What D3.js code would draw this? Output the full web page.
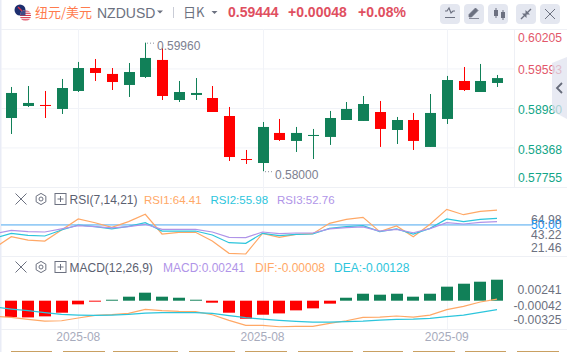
<!DOCTYPE html>
<html>
<head>
<meta charset="utf-8">
<script src="https://cdn.jsdelivr.net/npm/d3@7/dist/d3.min.js"></script>
<style>
  html, body { margin: 0; padding: 0; background: #fff; }
  svg { display: block; font-family: "Liberation Sans", Arial, sans-serif; }
  .cjk { font-family: "Noto Sans CJK SC", sans-serif; }
  .domain { display: none; }
</style>
</head>
<body>
<div id="chart"></div>
<script>
// first day sits just off the left edge, only the indicator lines reach it
const days = [
  "2025-07-25", "2025-07-28", "2025-07-29", "2025-07-30", "2025-07-31", "2025-08-01",
  "2025-08-04", "2025-08-05", "2025-08-06", "2025-08-07", "2025-08-08",
  "2025-08-11", "2025-08-12", "2025-08-13", "2025-08-14", "2025-08-15",
  "2025-08-18", "2025-08-19", "2025-08-20", "2025-08-21", "2025-08-22",
  "2025-08-25", "2025-08-26", "2025-08-27", "2025-08-28", "2025-08-29",
  "2025-09-01", "2025-09-02", "2025-09-03", "2025-09-04", "2025-09-05"
];
const dateTicks = ["2025-08-01", "2025-08-18", "2025-09-02"];

const opens = [0.58825, 0.59011, 0.59027, 0.58965, 0.59244, 0.59600, 0.59508, 0.59337, 0.59461, 0.59725,
  0.59104, 0.59182, 0.59135, 0.58856, 0.58189, 0.58127, 0.58593, 0.58469, 0.58546, 0.58531,
  0.58794, 0.58779, 0.58918, 0.58639, 0.58794, 0.58376, 0.58810, 0.59399, 0.59228, 0.59368];
const highs = [0.59306, 0.59321, 0.59244, 0.59430, 0.59694, 0.59740, 0.59600, 0.59678, 0.59993, 0.59905,
  0.59399, 0.59445, 0.59321, 0.58996, 0.58329, 0.58763, 0.58810, 0.58686, 0.58655, 0.58934,
  0.59073, 0.59166, 0.59089, 0.58841, 0.58903, 0.59197, 0.59477, 0.59616, 0.59663, 0.59492];
const lows = [0.58577, 0.58996, 0.58825, 0.58887, 0.59228, 0.59399, 0.59259, 0.59151, 0.59445, 0.59104,
  0.59073, 0.59104, 0.58918, 0.58158, 0.58112, 0.58000, 0.58469, 0.58298, 0.58189, 0.58407,
  0.58794, 0.58779, 0.58376, 0.58422, 0.58329, 0.58376, 0.58732, 0.59244, 0.59228, 0.59306];
const closes = [0.59213, 0.59058, 0.59011, 0.59290, 0.59600, 0.59523, 0.59383, 0.59538, 0.59756, 0.59166,
  0.59228, 0.59213, 0.58918, 0.58220, 0.58174, 0.58686, 0.58484, 0.58593, 0.58562, 0.58825,
  0.58965, 0.59042, 0.58655, 0.58794, 0.58469, 0.58903, 0.59414, 0.59259, 0.59399, 0.59444];

const priceTicks = [0.60205, 0.59593, 0.58980, 0.58368, 0.57755];

const rsi1 = [26.1, 37.5, 34.1, 33.1, 44.2, 55.4, 51.6, 46.9, 52.7, 60.1, 40.2, 41.9, 41.9, 33.1, 20.7, 20.0,
  40.9, 36.8, 39.9, 40.5, 51.0, 55.0, 57.0, 42.6, 48.3, 37.5, 50.0, 65.1, 59.7, 63.1, 64.41];
const rsi2 = [35.8, 40.9, 38.9, 38.2, 44.2, 49.3, 47.6, 45.3, 47.9, 51.6, 43.2, 43.2, 43.2, 39.2, 31.4, 30.8,
  40.9, 38.5, 39.9, 40.2, 45.9, 47.6, 48.6, 42.6, 45.3, 40.2, 45.9, 55.4, 52.7, 55.0, 55.98];
const rsi3 = [40.5, 43.9, 42.6, 42.2, 45.3, 48.6, 47.6, 46.3, 47.6, 50.0, 44.9, 44.9, 44.9, 42.2, 36.8, 36.5,
  42.2, 40.5, 41.2, 41.2, 45.3, 46.6, 47.3, 43.2, 44.9, 41.5, 45.6, 51.6, 50.3, 52.0, 52.76];
const rsiMid = 50;
const rsiTicks = ["64.98", "50.00", "43.22", "21.46"];

const macdBars = [-0.00188, -0.00192, -0.00180, -0.00138, -0.00042, -0.00011, 0.00011, 0.00046, 0.00092, 0.00046,
  0.00034, 0.00011, -0.00023, -0.00138, -0.00207, -0.00161, -0.00146, -0.00111, -0.00088, -0.00034,
  0.00034, 0.00080, 0.00069, 0.00080, 0.00046, 0.00080, 0.00161, 0.00195, 0.00218, 0.00241];
const dif = [-0.00180, -0.00192, -0.00214, -0.00234, -0.00230, -0.00199, -0.00169, -0.00161, -0.00146, -0.00100, -0.00115,
  -0.00123, -0.00126, -0.00161, -0.00226, -0.00283, -0.00283, -0.00299, -0.00295, -0.00295, -0.00260,
  -0.00230, -0.00192, -0.00188, -0.00176, -0.00188, -0.00165, -0.00103, -0.00065, -0.00015, 0.00019];
const dea = [-0.00073, -0.00096, -0.00115, -0.00138, -0.00157, -0.00165, -0.00169, -0.00165, -0.00157, -0.00142, -0.00138,
  -0.00138, -0.00138, -0.00146, -0.00172, -0.00195, -0.00211, -0.00226, -0.00237, -0.00245, -0.00245,
  -0.00241, -0.00234, -0.00222, -0.00214, -0.00211, -0.00203, -0.00184, -0.00165, -0.00134, -0.00103];
const macdTicks = ["0.00241", "-0.00042", "-0.00325"];

const W = 567, H = 352;
const UP = "#118058", DOWN = "#ff0000";
const ORANGE = "#ffa866", CYAN = "#2cc5dc", PURPLE = "#b094e8";
const GRID = "#f1f3f8", GREY = "#6c7180";

const svg = d3.select("#chart").append("svg").attr("width", W).attr("height", H);

const x = d3.scaleBand().domain(days).range([-13.85, 505.4]);
const mid = (d) => x(d) + x.bandwidth() / 2;

const yPrice = d3.scaleLinear().domain([0.57755, 0.60205]).range([187, 29]);
const yRsi = d3.scaleLinear().domain([20, 65]).range([254, 209.45]);
const yMacd = d3.scaleLinear().domain([-0.00325, 0.00241]).range([329, 279.7]);

// page edge on the left
svg.append("rect").attr("x", 0).attr("y", 0).attr("width", 1.5).attr("height", H).attr("fill", "#e9ecf6");

// grid
const grid = svg.append("g").attr("stroke", GRID).attr("fill", "none");
grid.selectAll(".h").data(priceTicks.slice(1, 4)).enter().append("line")
  .attr("x1", 1).attr("x2", 514)
  .attr("y1", (d) => yPrice(d) + 0.5).attr("y2", (d) => yPrice(d) + 0.5);
[29.5, 187.5, 256.5, 329.5].forEach((py) => {
  grid.append("line").attr("x1", 1).attr("x2", W).attr("y1", py).attr("y2", py).attr("stroke", "#eef0f5");
});
grid.selectAll(".v").data(dateTicks).enter().append("line")
  .attr("x1", (d) => Math.round(mid(d)) + 0.5).attr("x2", (d) => Math.round(mid(d)) + 0.5)
  .attr("y1", 29).attr("y2", 329);
grid.append("line").attr("x1", 514.5).attr("x2", 514.5).attr("y1", 29).attr("y2", 188).attr("stroke", "#eef0f5");

// candles
const candleDays = days.slice(1);
const candle = svg.append("g").selectAll("g").data(candleDays).enter().append("g")
  .attr("fill", (_, i) => closes[i] >= opens[i] ? UP : DOWN)
  .attr("stroke", (_, i) => closes[i] >= opens[i] ? UP : DOWN);
candle.append("line")
  .attr("x1", (d) => Math.round(mid(d)) + 0.5).attr("x2", (d) => Math.round(mid(d)) + 0.5)
  .attr("y1", (_, i) => yPrice(highs[i])).attr("y2", (_, i) => yPrice(lows[i]))
  .attr("stroke-width", 1);
candle.append("rect")
  .attr("x", (d) => Math.round(mid(d)) - 5).attr("width", 11)
  .attr("y", (_, i) => yPrice(Math.max(opens[i], closes[i])))
  .attr("height", (_, i) => Math.max(1, Math.abs(yPrice(opens[i]) - yPrice(closes[i]))))
  .attr("stroke", "none");

// high / low notes
function note(day, price, label, dx) {
  const px = Math.round(mid(day));
  const py = yPrice(price);
  svg.append("line").attr("x1", px + 2).attr("x2", px + dx - 1).attr("y1", py + 0.5).attr("y2", py + 0.5)
    .attr("stroke", "#8b8f9c").attr("stroke-dasharray", "1 2");
  svg.append("text").attr("x", px + dx).attr("y", py + 7.5).attr("font-size", 12).attr("fill", "#7c8090").text(label);
}
note("2025-08-07", 0.59993, "0.59960", 12);
note("2025-08-18", 0.58000, "0.58000", 12);

// price axis
const priceShift = { 0.60205: 9, 0.59593: 1, 0.58980: 1.5, 0.58368: 2.5, 0.57755: -9 };
const priceAxis = svg.append("g").attr("transform", "translate(562,0)")
  .call(d3.axisLeft(yPrice).tickValues(priceTicks).tickFormat(d3.format(".5f")).tickSize(0).tickPadding(0));
priceAxis.selectAll("text")
  .attr("font-size", 12.2)
  .attr("font-family", "Liberation Sans")
  .attr("fill", (d) => d > 0.59 ? "#e2576a" : "#12a587")
  .attr("transform", (d) => `translate(0,${priceShift[d]})`);

// side tab over the price labels
svg.append("path").attr("d", "M552,63 L567,57 L567,119 L552,111 Z").attr("fill", "#dfe2ee").attr("opacity", 0.72);
svg.append("path").attr("d", "M562,83 L557,88 L562,93").attr("fill", "none").attr("stroke", "#666b7a").attr("stroke-width", 1.8);

// RSI
const rsiLine = d3.line().x((_, i) => mid(days[i])).y((d) => yRsi(d));
svg.append("line").attr("x1", 1).attr("x2", 533).attr("y1", yRsi(rsiMid) + 0.5).attr("y2", yRsi(rsiMid) + 0.5)
  .attr("stroke", "#97ccf6").attr("stroke-width", 1.8);
[[rsi1, ORANGE], [rsi2, CYAN], [rsi3, PURPLE]].forEach(([vals, col]) => {
  svg.append("path").attr("d", rsiLine(vals)).attr("fill", "none").attr("stroke", col).attr("stroke-width", 1.2);
});

const rsiTickY = [220, 225, 235, 247.7];
svg.append("g").selectAll("text").data(rsiTicks).enter().append("text")
  .attr("x", 561.5).attr("y", (_, i) => rsiTickY[i] + 4.3)
  .attr("text-anchor", "end").attr("font-size", 12.2)
  .attr("fill", (d) => d === "50.00" ? "#2196f3" : GREY)
  .text((d) => d);

// MACD
svg.append("g").selectAll("rect").data(macdBars).enter().append("rect")
  .attr("x", (_, i) => Math.round(mid(candleDays[i])) - 6).attr("width", 12)
  .attr("y", (d) => d >= 0 ? yMacd(d) : yMacd(0))
  .attr("height", (d) => Math.abs(yMacd(d) - yMacd(0)))
  .attr("fill", (d) => d >= 0 ? UP : DOWN);
const macdLine = d3.line().x((_, i) => mid(days[i])).y((d) => yMacd(d));
[[dif, ORANGE], [dea, CYAN]].forEach(([vals, col]) => {
  svg.append("path").attr("d", macdLine(vals)).attr("fill", "none").attr("stroke", col).attr("stroke-width", 1.2);
});

const macdTickY = [289.7, 305.3, 320];
svg.append("g").selectAll("text").data(macdTicks).enter().append("text")
  .attr("x", 561.5).attr("y", (_, i) => macdTickY[i] + 4.3)
  .attr("text-anchor", "end").attr("font-size", 12.2).attr("fill", GREY)
  .text((d) => d);

// date axis
const dateAxis = svg.append("g").attr("transform", "translate(0,329)")
  .call(d3.axisBottom(x).tickValues(dateTicks).tickFormat((d) => d.slice(0, 7)).tickSize(0).tickPadding(3));
dateAxis.selectAll("text").attr("font-size", 12).attr("fill", "#a7abbc");

// tabs peeking in at the bottom
[[11, 52], [63, 105], [113, 178], [189, 235], [245, 287], [298, 353], [363, 403], [413, 455], [465, 506], [517, 559]].forEach(([a, b]) => {
  svg.append("rect").attr("x", a).attr("y", 351).attr("width", b - a).attr("height", 1).attr("fill", "#c9a062");
});

// panel headers
function closeIcon(cx, cy, r) {
  svg.append("path").attr("d", `M${cx - r},${cy - r} L${cx + r},${cy + r} M${cx - r},${cy + r} L${cx + r},${cy - r}`)
    .attr("stroke", GREY).attr("stroke-width", 1).attr("fill", "none");
}
function panelIcons(cy) {
  closeIcon(21, cy, 5.5);
  const hex = d3.range(6).map((k) => {
    const a = Math.PI / 3 * k + Math.PI / 6;
    return [41 + 5.6 * Math.cos(a), cy + 5.6 * Math.sin(a)].join(",");
  }).join(" ");
  svg.append("polygon").attr("points", hex).attr("fill", "none").attr("stroke", GREY);
  svg.append("circle").attr("cx", 41).attr("cy", cy).attr("r", 2).attr("fill", "none").attr("stroke", GREY);
  svg.append("rect").attr("x", 55).attr("y", cy - 5.5).attr("width", 11).attr("height", 11).attr("fill", "none").attr("stroke", GREY);
  svg.append("path").attr("d", `M57.5,${cy} H63.5 M60.5,${cy - 3} V${cy + 3}`).attr("stroke", GREY).attr("fill", "none");
}
function legendText(px, py, label, col, size) {
  svg.append("text").attr("x", px).attr("y", py).attr("font-size", size || 12).attr("fill", col).text(label);
}
panelIcons(199);
legendText(69.5, 203.5, "RSI(7,14,21)", "#5b6070");
legendText(144, 203.5, "RSI1:64.41", ORANGE, 11.5);
legendText(210.5, 203.5, "RSI2:55.98", CYAN, 11.5);
legendText(277, 203.5, "RSI3:52.76", PURPLE, 11.5);
panelIcons(267);
legendText(69.5, 272, "MACD(12,26,9)", "#5b6070");
legendText(163, 272, "MACD:0.00241", PURPLE);
legendText(255, 272, "DIF:-0.00008", ORANGE);
legendText(334, 272, "DEA:-0.00128", CYAN);

// top bar
const defs = svg.append("defs");
defs.append("clipPath").attr("id", "usClip").append("circle").attr("cx", 25.5).attr("cy", 15.5).attr("r", 5.5);
svg.append("circle").attr("cx", 20).attr("cy", 10).attr("r", 5.5).attr("fill", "#1d2f6f");
svg.append("path").attr("d", "M18,7 L22,11").attr("stroke", "#d8344a").attr("stroke-width", 1.4);
svg.append("circle").attr("cx", 25.5).attr("cy", 15.5).attr("r", 5.5).attr("fill", "#fff");
const us = svg.append("g").attr("clip-path", "url(#usClip)");
d3.range(5).forEach((k) => us.append("rect").attr("x", 19).attr("y", 10.5 + k * 2.2).attr("width", 14).attr("height", 1.1).attr("fill", "#d8344a"));
us.append("rect").attr("x", 19).attr("y", 9.5).attr("width", 6.5).attr("height", 6).attr("fill", "#3f4a86");

svg.append("text").attr("class", "cjk").attr("x", 35).attr("y", 16.5).attr("font-size", 13).attr("fill", "#ff7b4d").text("纽元/美元");
svg.append("text").attr("x", 97).attr("y", 18).attr("font-size", 14).attr("fill", GREY).text("NZDUSD");
svg.append("path").attr("d", "M157,10.5 H163 L160,13.5 Z").attr("fill", GREY);
svg.append("line").attr("x1", 173.5).attr("x2", 173.5).attr("y1", 7).attr("y2", 18).attr("stroke", "#c9ccd6");
svg.append("text").attr("class", "cjk").attr("x", 183).attr("y", 16.5).attr("font-size", 13).attr("fill", GREY).text("日K");
svg.append("path").attr("d", "M211.5,11 H217.5 L214.5,14 Z").attr("fill", GREY);

const RED = "#e04f5f";
[[228, "0.59444"], [288, "+0.00048"], [358, "+0.08%"]].forEach(([px, label]) => {
  svg.append("text").attr("x", px).attr("y", 17).attr("font-size", 14).attr("font-weight", 700).attr("fill", RED).text(label);
});

// toolbar buttons
[440, 464, 488, 516, 540].forEach((bx) => {
  svg.append("rect").attr("x", bx).attr("y", 4).attr("width", 20).attr("height", 20).attr("rx", 4).attr("fill", "#e4e7f0");
});
svg.append("path").attr("d", "M445,11 H447 L449,8 L451,13 L453,11 H455 M445,17.5 H455").attr("fill", "none").attr("stroke", GREY).attr("stroke-width", 1.2);
svg.append("path").attr("d", "M469,17 L469,14.5 L475.5,8 L478,10.5 L471.5,17 Z M469,18.5 H479").attr("fill", GREY).attr("stroke", GREY).attr("stroke-width", 0.8);
svg.append("path").attr("d", "M494,10 H498 V16 H494 Z M501,12 H505 V18 H501 Z").attr("fill", GREY);
svg.append("path").attr("d", "M496,8 V18 M503,10 V20").attr("stroke", GREY);
svg.append("path").attr("d", "M521,19 L525,15 M531,9 L527,13").attr("stroke", GREY).attr("stroke-width", 1.4);
svg.append("path").attr("d", "M522,13.5 H526.5 V18 Z M530,14.5 H525.5 V10 Z").attr("fill", GREY);
closeIcon(550, 14, 5);
</script>
</body>
</html>
